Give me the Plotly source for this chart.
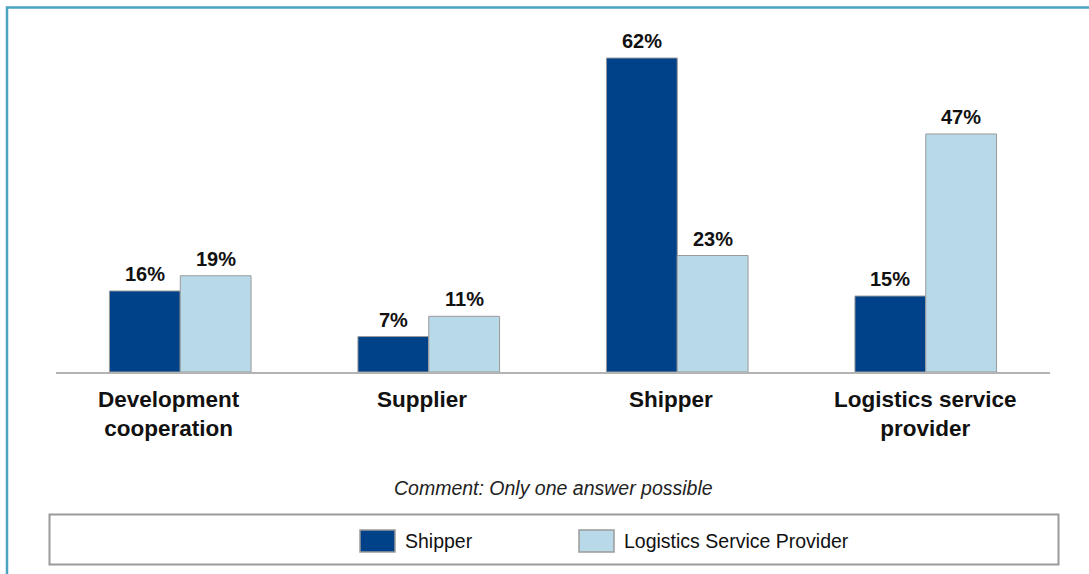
import plotly.graph_objects as go

# Survey results by respondent group
categories = ["Development<br>cooperation", "Supplier", "Shipper", "Logistics service<br>provider"]
series_names = ["Shipper", "Logistics Service Provider"]
shipper_pct = [16, 7, 62, 15]
lsp_pct = [19, 11, 23, 47]
comment = "Comment: Only one answer possible"

# horizontal nudge (px) of each category caption
label_nudge = [-11, -7, -6, 0]

W, H = 1089, 574
ML, MR, MT, MB = 56, 39, 18, 202
PW, PH = W - ML - MR, H - MT - MB

def px_x(px):
    return (px - ML) / PW

def px_y(py):
    return (H - MB - py) / PH

dark = "#00428a"
light = "#b8d9e8"
edge = "#9a9a9a"
FONT = "Arial, Liberation Sans, sans-serif"

fig = go.Figure()
for name, vals, col in [(series_names[0], shipper_pct, dark), (series_names[1], lsp_pct, light)]:
    fig.add_trace(go.Bar(
        x=list(range(len(categories))), y=vals, name=name,
        marker=dict(color=col, line=dict(color=edge, width=1)),
        showlegend=False,
    ))

bargap = 0.43
half = (1 - bargap) / 4
annotations = []
for i in range(len(categories)):
    for off, vals in [(-half, shipper_pct), (half, lsp_pct)]:
        annotations.append(dict(
            x=i + off, y=vals[i], xref="x", yref="y",
            text=f"<b>{vals[i]}%</b>", showarrow=False,
            yanchor="bottom", yshift=4,
            font=dict(family=FONT, size=20, color="#111111"),
        ))

# category captions below the baseline
for i, cat in enumerate(categories):
    annotations.append(dict(
        x=i, y=0, xref="x", yref="y", text=f"<b>{cat}</b>",
        showarrow=False, xanchor="center", yanchor="top",
        xshift=label_nudge[i], yshift=-13, align="center",
        font=dict(family=FONT, size=22.5, color="#111111"),
    ))

annotations.append(dict(
    x=0.5, y=px_y(488), xref="paper", yref="paper", text=f"<i>{comment}</i>",
    showarrow=False, xanchor="center", yanchor="middle",
    font=dict(family=FONT, size=19.5, color="#222222"),
))

shapes = [
    # outer frame
    dict(type="rect", xref="paper", yref="paper",
         x0=px_x(7), x1=px_x(1120), y0=px_y(7.5), y1=px_y(600),
         line=dict(color="#4aa3c1", width=2.5), fillcolor="rgba(0,0,0,0)", layer="below"),
    # legend box
    dict(type="rect", xref="paper", yref="paper",
         x0=px_x(49.5), x1=px_x(1058.5), y0=px_y(514.5), y1=px_y(564.5),
         line=dict(color="#9a9a9a", width=2), fillcolor="rgba(0,0,0,0)"),
]

legend_items = [(series_names[0], dark, 360, 403), (series_names[1], light, 579, 622)]
for name, col, sx, tx in legend_items:
    shapes.append(dict(type="rect", xref="paper", yref="paper",
                       x0=px_x(sx), x1=px_x(sx + 35), y0=px_y(530), y1=px_y(552),
                       line=dict(color=edge, width=1.5), fillcolor=col))
    annotations.append(dict(
        x=px_x(tx), y=px_y(541), xref="paper", yref="paper", text=name,
        showarrow=False, xanchor="left", yanchor="middle",
        font=dict(family=FONT, size=19.5, color="#111111"),
    ))

fig.update_layout(
    width=W, height=H,
    margin=dict(l=ML, r=MR, t=MT, b=MB),
    paper_bgcolor="white", plot_bgcolor="white",
    barmode="group", bargap=bargap, bargroupgap=0,
    xaxis=dict(
        range=[-0.5, len(categories) - 0.5],
        showline=True, linecolor="#b3b3b3", linewidth=2,
        showgrid=False, zeroline=False, ticks="", showticklabels=False,
        fixedrange=True,
    ),
    yaxis=dict(range=[0, PH / (314 / 62)], visible=False, showgrid=False,
               zeroline=False, fixedrange=True),
    annotations=annotations,
    shapes=shapes,
    showlegend=False,
)

fig.write_html("out.html")
